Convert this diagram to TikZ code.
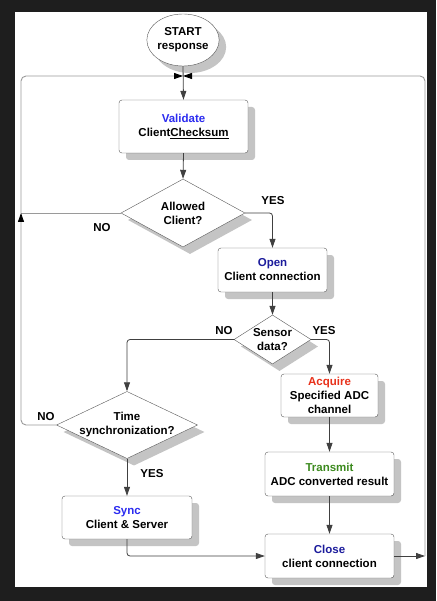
\documentclass[tikz,border=0pt]{standalone}
\usepackage{fontspec}
\setmainfont{Liberation Sans}
\usetikzlibrary{positioning,arrows.meta,shapes.geometric,shadows,calc}

\definecolor{framebg}{HTML}{1E1E1E}
\definecolor{linegray}{HTML}{9A9A9A}
\definecolor{shadegray}{HTML}{C4C4C4}
\definecolor{brightblue}{HTML}{2B2BF0}
\definecolor{darkblue}{HTML}{1C1C9C}
\definecolor{acqred}{HTML}{E8321C}
\definecolor{trgreen}{HTML}{3C8A1E}

\tikzset{
  txt/.style={font=\fontsize{11.5}{14}\selectfont\bfseries, align=center},
  shade/.style={drop shadow={shadow xshift=7pt, shadow yshift=-7pt, fill=shadegray, opacity=1}},
  box/.style={txt, shade, draw=black!65, fill=white, rounded corners=3pt, inner sep=0pt},
  decision/.style={txt, shade, diamond, draw=black!65, fill=white, inner sep=-1pt},
  startnode/.style={txt, shade, ellipse, draw=black!65, fill=white, inner sep=0pt},
  lbl/.style={txt, inner sep=0pt},
  conn/.style={draw=black!75, line width=0.8pt, -{Triangle[length=9pt,width=6pt]}},
  loopline/.style={draw=linegray, line width=0.9pt, rounded corners=5pt},
  looparrow/.style={loopline, -{Triangle[length=9pt,width=6pt,color=black]}}
}

\begin{document}
\begin{tikzpicture}[x=1pt, y=-1pt]
        % Frame
        \fill[framebg] (0,0) rectangle (436,601);
        \fill[white] (15,12) rectangle (427,587);
        \useasboundingbox (0,0) rectangle (436,601);

        % Steps
        \node[startnode, minimum width=72pt, minimum height=52pt] (start) at (183,40) {START\\response};
        \node[box, minimum width=129pt, minimum height=53pt] (validate) at (183.5,126.5)
            {\textcolor{brightblue}{Validate}\\Client\underline{Checksum}};
        \node[decision, aspect=1.82, minimum width=124pt, minimum height=68pt] (allowed) at (183,213) {Allowed\\Client?};
        \node[box, minimum width=109pt, minimum height=44pt] (open) at (272.5,270)
            {\textcolor{darkblue}{Open}\\Client connection};
        \node[decision, aspect=1.57, minimum width=77pt, minimum height=49pt] (sensor) at (272.5,339.5) {Sensor\\data?};
        \node[box, minimum width=97pt, minimum height=43pt] (acquire) at (329.5,395.5)
            {\textcolor{acqred}{Acquire}\\Specified ADC\\channel};
        \node[decision, aspect=2.1, minimum width=141pt, minimum height=67pt] (timesync) at (127,425) {Time\\synchronization?};
        \node[box, minimum width=129pt, minimum height=44pt] (transmit) at (329.5,474)
            {\textcolor{trgreen}{Transmit}\\ADC converted result};
        \node[box, minimum width=130pt, minimum height=43pt] (sync) at (127,517.5)
            {\textcolor{brightblue}{Sync}\\Client \& Server};
        \node[box, minimum width=129pt, minimum height=44pt] (close) at (329.5,556)
            {\textcolor{darkblue}{Close}\\client connection};

        % Labels
        \node[lbl] (allowedyes) at (273,201) {YES};
        \node[lbl] (allowedno) at (102,228) {NO};
        \node[lbl] (sensorno) at (224,331) {NO};
        \node[lbl] (sensoryes) at (324,331) {YES};
        \node[lbl] (timeno) at (46,417) {NO};
        \node[lbl] (timeyes) at (152,474) {YES};

        % Loop points
        \coordinate (top) at (183,76);
        \coordinate (lft) at (21,213);
        \coordinate (rgt) at (425,556);

        % Connectors
        \draw[conn] (start.south) -- (validate.north);
        \draw[conn] (validate.south) -- (allowed.north);
        \draw[conn, rounded corners=3pt] (allowed.east) -| (open.north);
        \draw[conn] (open.south) -- (sensor.north);
        \draw[conn, rounded corners=3pt] (sensor.east) -| (acquire.north);
        \draw[conn, rounded corners=3pt] (sensor.west) -| (timesync.north);
        \draw[conn] (acquire.south) -- (transmit.north);
        \draw[conn] (transmit.south) -- (close.north);
        \draw[conn] (timesync.south) -- (sync.north);
        \draw[conn, rounded corners=3pt] (sync.south) |- (close.west);
        \draw[conn] (close.east) -- (rgt);

        % Back to start
        \draw[loopline] (allowed.west) -- (lft);
        \draw[looparrow] (timesync.west) -| (lft);
        \draw[looparrow] (lft) |- (top);
        \draw[looparrow] (rgt) |- (top);
\end{tikzpicture}
\end{document}
